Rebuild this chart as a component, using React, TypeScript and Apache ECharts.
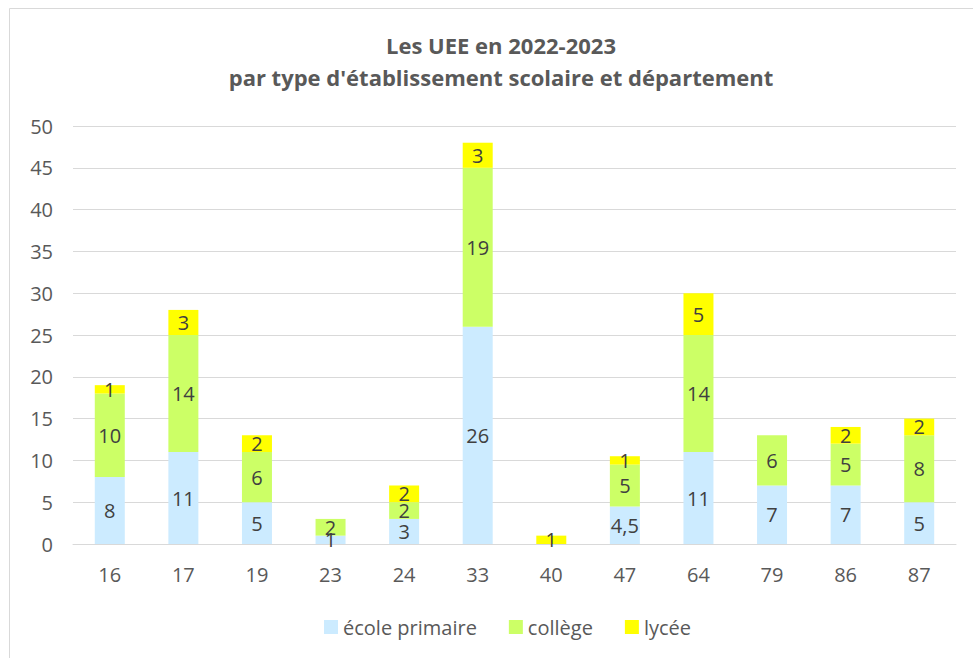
import React, { useEffect, useRef } from "react";
import * as echarts from "echarts";

const categories = ["16", "17", "19", "23", "24", "33", "40", "47", "64", "79", "86", "87"];
const ecolePrimaire = [8, 11, 5, 1, 3, 26, 0, 4.5, 11, 7, 7, 5];
const college = [10, 14, 6, 2, 2, 19, 0, 5, 14, 6, 5, 8];
const lycee = [1, 3, 2, 0, 2, 3, 1, 1, 5, 0, 2, 2];
const seriesNames = ["école primaire", "collège", "lycée"];
const colors = ["#CCEBFF", "#CCFF66", "#FFFF00"];

const FONT = "'Open Sans', sans-serif";

export default function App() {
  const ref = useRef<HTMLDivElement>(null);
  useEffect(() => {
    if (!ref.current) return;
    const chart = echarts.init(ref.current, null, { renderer: "svg" });
    const label = {
      show: true,
      position: "inside" as const,
      color: "#404040",
      fontSize: 20,
      fontFamily: FONT,
      formatter: (p: any) => (p.value === 0 ? "" : String(p.value).replace(".", ",")),
    };
    const mk = (name: string, data: number[], color: string) => ({
      name,
      type: "bar" as const,
      stack: "total",
      data,
      barWidth: 30,
      itemStyle: { color },
      label,
    });
    chart.setOption({
      animation: false,
      textStyle: { fontFamily: FONT },
      title: {
        text: "Les UEE en 2022-2023\npar type d'établissement scolaire et département",
        left: 496,
        top: 24,
        textAlign: "center",
        textStyle: {
          fontFamily: FONT,
          fontSize: 22,
          fontWeight: "bold",
          color: "#595959",
          lineHeight: 32,
        },
      },
      graphic: [
        {
          type: "rect",
          shape: { x: 9.5, y: 8.5, width: 1000, height: 1000 },
          style: { fill: "none", stroke: "#d9d9d9", lineWidth: 1 },
          silent: true,
        },
      ],
      legend: {
        bottom: 16,
        left: 319,
        itemWidth: 14,
        itemHeight: 14,
        itemGap: 32,
        icon: "rect",
        textStyle: { fontFamily: FONT, fontSize: 20, color: "#595959" },
        data: seriesNames,
      },
      grid: { left: 73, right: 17, top: 126, bottom: 114 },
      xAxis: {
        type: "category",
        data: categories,
        axisTick: { show: false },
        axisLine: { lineStyle: { color: "#d9d9d9" } },
        axisLabel: { fontFamily: FONT, fontSize: 20, color: "#595959", margin: 20 },
      },
      yAxis: {
        type: "value",
        min: 0,
        max: 50,
        interval: 5,
        axisLabel: { fontFamily: FONT, fontSize: 20, color: "#595959", margin: 20 },
        splitLine: { lineStyle: { color: "#d9d9d9" } },
      },
      series: [
        mk(seriesNames[0], ecolePrimaire, colors[0]),
        mk(seriesNames[1], college, colors[1]),
        mk(seriesNames[2], lycee, colors[2]),
      ],
    });
    return () => chart.dispose();
  }, []);
  return (
    <div
      ref={ref}
      style={{ position: "absolute", left: 0, top: 0, width: 973, height: 658, background: "#fff" }}
    />
  );
}
